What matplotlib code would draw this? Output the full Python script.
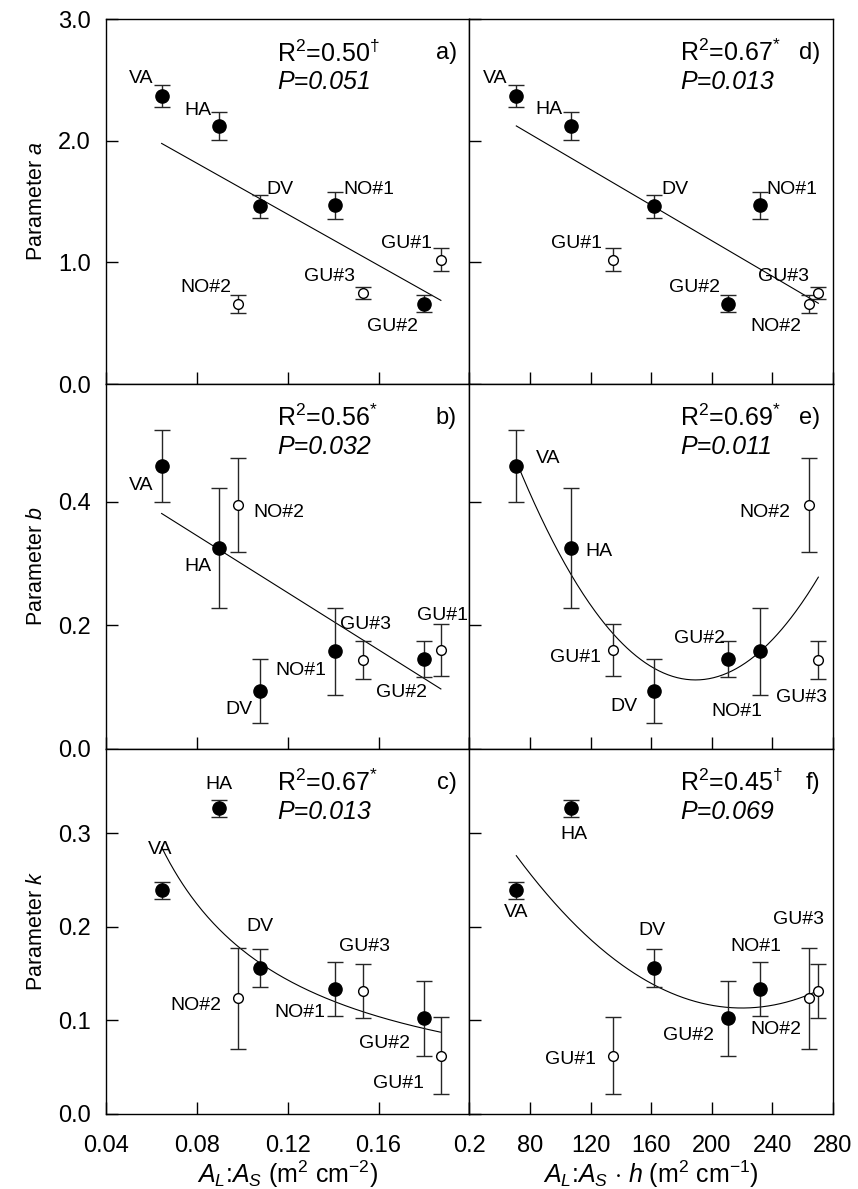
import numpy as np
import matplotlib
matplotlib.use("Agg")
from matplotlib import pyplot as plt

plt.rcParams['font.family'] = ['Liberation Sans', 'DejaVu Sans']
plt.rcParams['mathtext.fontset'] = 'custom'
plt.rcParams['mathtext.rm'] = 'Liberation Sans'
plt.rcParams['mathtext.it'] = 'Liberation Sans:italic'
plt.rcParams['mathtext.sf'] = 'Liberation Sans'

# data
sites = ['VA', 'HA', 'DV', 'NO#1', 'GU#2', 'NO#2', 'GU#1', 'GU#3']
filled = [True, True, True, True, True, False, False, False]
al_as = [0.0645, 0.0897, 0.1078, 0.141, 0.180, 0.0983, 0.1874, 0.1532]
al_as_h = [70.9, 106.9, 161.7, 231.7, 210.7, 264.3, 134.5, 270.3]
param_a = [2.37, 2.12, 1.46, 1.47, 0.66, 0.66, 1.02, 0.75]
err_a = [0.09, 0.115, 0.095, 0.11, 0.07, 0.075, 0.095, 0.05]
param_b = [0.458, 0.325, 0.094, 0.158, 0.145, 0.394, 0.160, 0.144]
err_b = [0.058, 0.097, 0.052, 0.07, 0.029, 0.076, 0.042, 0.031]
param_k = [0.239, 0.3265, 0.156, 0.1337, 0.1023, 0.1237, 0.0624, 0.1316]
err_k = [0.009, 0.009, 0.02, 0.029, 0.04, 0.054, 0.041, 0.029]

r2_text = ['0.50', '0.56', '0.67', '0.67', '0.69', '0.45']
r2_mark = [r'\dagger', '*', '*', '*', '*', r'\dagger']
p_text = ['0.051', '0.032', '0.013', '0.013', '0.011', '0.069']
letters = ['a)', 'b)', 'c)', 'd)', 'e)', 'f)']
fit_kind = ['lin', 'lin', 'pow', 'lin', 'quad', 'quad']

# label offsets in pixels (dx, dy) per panel
offs = {
    'a': {'VA': (-20, 17), 'HA': (-21, 16), 'DV': (20, 17), 'NO#1': (33, 16),
          'GU#2': (-32, -23), 'NO#2': (-33, 16), 'GU#1': (-34, 16), 'GU#3': (-34, 16)},
    'b': {'VA': (-20, -20), 'HA': (-21, -19), 'DV': (-21, -19), 'NO#1': (-35, -19),
          'GU#2': (-23, -33), 'NO#2': (40, -7), 'GU#1': (2, 35), 'GU#3': (2, 35)},
    'c': {'VA': (-1, 41), 'HA': (0, 24), 'DV': (0, 41), 'NO#1': (-36, -24),
          'GU#2': (-40, -25), 'NO#2': (-43, -7), 'GU#1': (-42, -28), 'GU#3': (1, 44)},
    'd': {'VA': (-21, 17), 'HA': (-22, 17), 'DV': (21, 17), 'NO#1': (32, 16),
          'GU#2': (-34, 16), 'NO#2': (-33, -23), 'GU#1': (-36, 16), 'GU#3': (-35, 16)},
    'e': {'VA': (32, 7), 'HA': (28, -4), 'DV': (-30, -16), 'NO#1': (-23, -60),
          'GU#2': (-29, 21), 'NO#2': (-44, -7), 'GU#1': (-37, -7), 'GU#3': (-17, -38)},
    'f': {'VA': (0, -22), 'HA': (3, -26), 'DV': (-2, 37), 'NO#1': (-4, 42),
          'GU#2': (-40, -17), 'NO#2': (-33, -31), 'GU#1': (-42, -4), 'GU#3': (-20, 71)},
}

fig, axes = plt.subplots(3, 2, figsize=(8.58, 11.89), dpi=100)
plt.subplots_adjust(left=0.1235, right=0.9709, top=0.984, bottom=0.0631,
                    wspace=0, hspace=0)

ys = [param_a, param_b, param_k]
es = [err_a, err_b, err_k]
xs = [al_as, al_as_h]
ylims = [(0, 3.0), (0, 0.59), (0, 0.39)]
yticks = [[0, 1, 2, 3], [0, 0.2, 0.4], [0, 0.1, 0.2, 0.3]]
ylabels = ['Parameter $a$', 'Parameter $b$', 'Parameter $k$']
keys = ['abc', 'def']

for col in range(2):
    for row in range(3):
        ax = axes[row, col]
        idx = col * 3 + row
        key = keys[col][row]
        x = np.array(xs[col])
        y = np.array(ys[row])
        e = np.array(es[row])
        for i in range(len(sites)):
            ax.errorbar(x[i], y[i], yerr=e[i], fmt='none', ecolor='0.15',
                        elinewidth=1, capsize=6, capthick=1, zorder=2)
            if filled[i]:
                ax.plot(x[i], y[i], 'o', ms=9.5, mfc='black', mec='black', zorder=3)
            else:
                ax.plot(x[i], y[i], 'o', ms=7, mfc='white', mec='black', mew=1, zorder=3)
            dx, dy = offs[key][sites[i]]
            ax.annotate(sites[i], (x[i], y[i]), xytext=(dx, dy),
                        textcoords='offset pixels', ha='center', va='center',
                        fontsize=14)

        # regression line
        xf = np.linspace(x.min(), x.max(), 200)
        if fit_kind[idx] == 'lin':
            c = np.polyfit(x, y, 1)
            yf = np.polyval(c, xf)
        elif fit_kind[idx] == 'quad':
            c = np.polyfit(x, y, 2)
            yf = np.polyval(c, xf)
        else:
            c = np.polyfit(np.log(x), np.log(y), 1)
            yf = np.exp(np.polyval(c, np.log(xf)))
        ax.plot(xf, yf, color='black', lw=0.8, zorder=1)

        # stats text
        tx = 0.47 if col == 0 else 0.58
        ax.text(tx, 0.907, 'R$^{2}$=' + r2_text[idx] + '$^{' + r2_mark[idx] + '}$',
                transform=ax.transAxes, fontsize=18, ha='left', va='center')
        ax.text(tx, 0.828, 'P=' + p_text[idx], transform=ax.transAxes,
                fontsize=18, ha='left', va='center', style='italic')
        ax.text(0.965, 0.907, letters[idx], transform=ax.transAxes,
                fontsize=17, ha='right', va='center')

        ax.set_ylim(*ylims[row])
        ax.set_yticks(yticks[row])
        if col == 0:
            ax.set_xlim(0.04, 0.2)
            ax.set_xticks([0.04, 0.08, 0.12, 0.16, 0.2])
            ax.set_xticklabels(['0.04', '0.08', '0.12', '0.16', '0.2'])
            ax.set_yticklabels(['%.1f' % t for t in yticks[row]])
            ax.set_ylabel(ylabels[row], fontsize=15.5, labelpad=8)
        else:
            ax.set_xlim(40, 280)
            ax.set_xticks([40, 80, 120, 160, 200, 240, 280])
            ax.set_xticklabels(['', '80', '120', '160', '200', '240', '280'])
            ax.set_yticklabels([])
        if row < 2:
            ax.tick_params(axis='x', labelbottom=False)
        ax.tick_params(direction='in', length=8.5, width=1, labelsize=17)
        ax.tick_params(axis='x', pad=15)
        ax.tick_params(axis='y', pad=11)
        for s in ax.spines.values():
            s.set_linewidth(1)

axes[2, 0].set_xlabel('$A_L$:$A_S$ (m$^{2}$ cm$^{-2}$)', fontsize=18, labelpad=1)
axes[2, 1].set_xlabel('$A_L$:$A_S$ $\\cdot$ $h$ (m$^{2}$ cm$^{-1}$)', fontsize=18, labelpad=1)

fig.savefig('out.png', dpi=100)
